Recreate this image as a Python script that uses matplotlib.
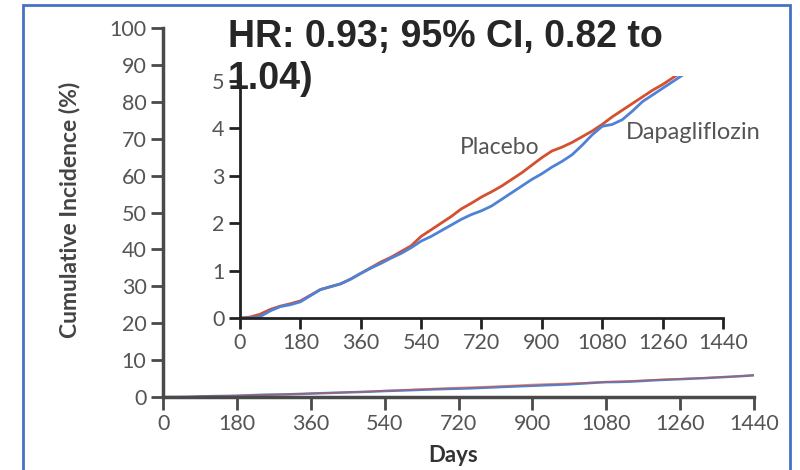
import matplotlib.pyplot as plt
from matplotlib.patches import Rectangle

# days and cumulative incidence (%)
days = [0, 30, 60, 90, 120, 150, 180, 210, 240, 270, 300, 330, 360, 390, 420,
        450, 480, 510, 540, 570, 600, 630, 660, 690, 720, 750, 780, 810, 840,
        870, 900, 930, 960, 990, 1020, 1050, 1080, 1110, 1140, 1170, 1200,
        1230, 1260, 1290, 1320, 1350, 1380, 1410, 1440]
placebo = [0, 0.02, 0.08, 0.18, 0.25, 0.30, 0.36, 0.48, 0.60, 0.66, 0.72, 0.82,
           0.94, 1.06, 1.18, 1.28, 1.40, 1.52, 1.72, 1.86, 2.00, 2.14, 2.30,
           2.42, 2.55, 2.66, 2.78, 2.92, 3.06, 3.22, 3.38, 3.52, 3.60, 3.70,
           3.82, 3.94, 4.08, 4.24, 4.38, 4.52, 4.66, 4.80, 4.92, 5.06, 5.20,
           5.34, 5.50, 5.70, 5.95]
dapa = [0, 0.0, 0.03, 0.15, 0.24, 0.28, 0.34, 0.47, 0.60, 0.66, 0.72, 0.82,
        0.94, 1.05, 1.15, 1.26, 1.36, 1.48, 1.62, 1.72, 1.84, 1.96, 2.08, 2.18,
        2.26, 2.36, 2.50, 2.64, 2.78, 2.92, 3.04, 3.18, 3.30, 3.44, 3.64, 3.86,
        4.04, 4.08, 4.18, 4.36, 4.56, 4.70, 4.84, 4.98, 5.12, 5.30, 5.48, 5.66,
        5.88]
xticks = [0, 180, 360, 540, 720, 900, 1080, 1260, 1440]
main_yticks = list(range(0, 101, 10))
inset_yticks = [0, 1, 2, 3, 4, 5]

red = '#d4502f'
blue = '#4f82d6'
tick_col = '#555555'
spine_col = '#4a4a4a'

fig = plt.figure(figsize=(8, 4.7), dpi=100)

# blue frame around the picture
fig.patches.append(Rectangle((23 / 800, -0.1), 767 / 800, 1.1 - 5 / 470,
                             transform=fig.transFigure, fill=False,
                             edgecolor='#4472c4', lw=2))

ax = fig.add_axes([0.204, 0.1553, 0.7385, 0.7851])
ax.plot(days, dapa, color=blue, lw=1.8)
ax.plot(days, placebo, color=red, lw=1.2, alpha=0.6)
ax.set_xlim(0, 1440)
ax.set_ylim(0, 100)
ax.set_xticks(xticks)
ax.set_yticks(main_yticks)
for s in ['top', 'right']:
    ax.spines[s].set_visible(False)
for s in ['left', 'bottom']:
    ax.spines[s].set_color(spine_col)
    ax.spines[s].set_linewidth(2.5)
ax.tick_params(direction='out', length=9, width=2, color=spine_col,
               labelcolor=tick_col, labelsize=15.5, pad=3)
for lab in ax.get_xticklabels() + ax.get_yticklabels():
    lab.set_family('Lato')

ins = fig.add_axes([0.3, 0.3234, 0.6037, 0.5149])
ins.plot(days, placebo, color=red, lw=2)
ins.plot(days, dapa, color=blue, lw=2)
ins.set_xlim(0, 1440)
ins.set_ylim(0, 5.1)
ins.set_xticks(xticks)
ins.set_yticks(inset_yticks)
ins.patch.set_alpha(0)
for s in ['top', 'right']:
    ins.spines[s].set_visible(False)
for s in ['left', 'bottom']:
    ins.spines[s].set_color('#222222')
    ins.spines[s].set_linewidth(2)
ins.tick_params(direction='out', length=8, width=2, color='#222222',
                labelcolor=tick_col, labelsize=15.5, pad=3)
for lab in ins.get_xticklabels() + ins.get_yticklabels():
    lab.set_family('Lato')
ins.text(775, 3.6, 'Placebo', ha='center', va='center', fontsize=16.5,
         color=tick_col, family='Lato')
ins.text(1350, 3.9, 'Dapagliflozin', ha='center', va='center', fontsize=17,
         color=tick_col, family='Lato')

fig.text(0.285, 1 - 19 / 470, 'HR: 0.93; 95% CI, 0.82 to\n1.04)',
         ha='left', va='top', fontsize=27, fontweight='bold',
         color='#262626', family='Liberation Sans')
fig.text(453 / 800, 1 - 456 / 470, 'Days', ha='center', va='center',
         fontsize=16, fontweight='bold', color='#333333', family='Lato')
fig.text(70 / 800, 1 - 210 / 470, 'Cumulative Incidence (%)', rotation=90,
         ha='center', va='center', fontsize=16.5, fontweight='bold',
         color='#444444', family='Lato')

fig.savefig('out.png', dpi=100)
